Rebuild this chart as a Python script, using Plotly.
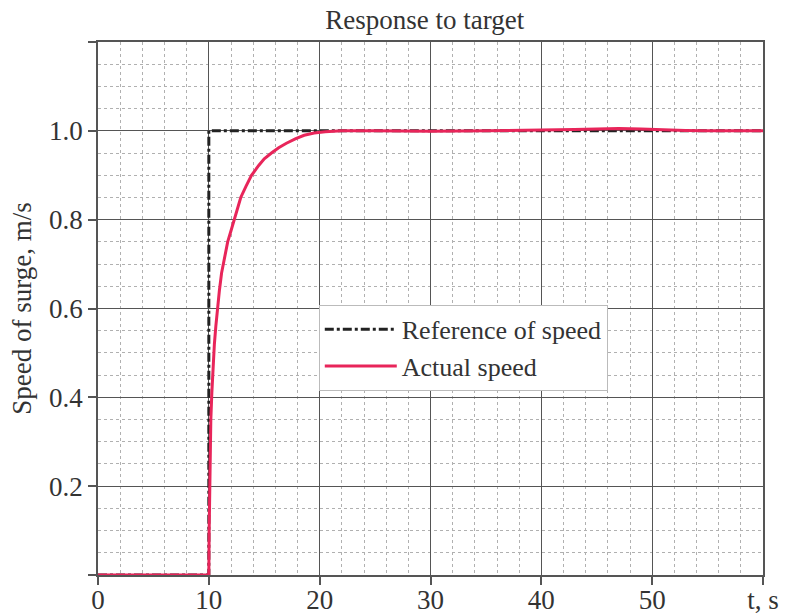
import plotly.graph_objects as go

# Reference of speed (step at t = 10 s)
t_ref = [0, 10, 10, 60]
v_ref = [0, 0, 1.0, 1.0]

# Actual speed
t_act = [0, 10, 10.03, 10.08, 10.13, 10.18, 10.27, 10.38, 10.5, 10.63, 10.78, 10.95,
         11.15, 11.4, 11.7, 12.0, 12.28, 12.58, 12.88, 13.35, 13.85, 14.5, 15.0, 15.65,
         16.3, 17.0, 17.8, 18.6, 19.5, 20.5, 22, 25, 30, 35, 40, 43, 45, 47, 49, 51,
         53, 55, 60]
v_act = [0, 0, 0.10, 0.22, 0.30, 0.35, 0.41, 0.47, 0.52, 0.56, 0.60, 0.64,
         0.68, 0.715, 0.75, 0.775, 0.80, 0.825, 0.85, 0.875, 0.90, 0.922, 0.937, 0.95,
         0.962, 0.972, 0.982, 0.99, 0.995, 0.998, 1.0, 1.0, 0.999, 1.0, 1.001, 1.003,
         1.004, 1.005, 1.004, 1.002, 1.001, 1.0, 1.0]

x_tickvals = [0, 10, 20, 30, 40, 50, 60]
x_ticktext = ["0", "10", "20", "30", "40", "50", "t, s"]
y_tickvals = [0, 0.2, 0.4, 0.6, 0.8, 1.0, 1.2]
y_ticktext = ["", "0.2", "0.4", "0.6", "0.8", "1.0", ""]

FONT = "Liberation Serif"
TXT = "#333333"

fig = go.Figure()
fig.add_trace(go.Scatter(x=t_ref, y=v_ref, mode="lines", name="Reference of speed",
                         line=dict(color="#222222", width=3, dash="dashdot")))
fig.add_trace(go.Scatter(x=t_act, y=v_act, mode="lines", name="Actual speed",
                         line=dict(color="#e8255a", width=3)))

fig.update_layout(
    width=785, height=616,
    margin=dict(l=98, r=22, t=42, b=41),
    paper_bgcolor="white", plot_bgcolor="white",
    font=dict(family=FONT, size=26, color=TXT),
    title=dict(text="Response to target", x=0.541, xanchor="center", y=0.968, yanchor="middle",
               font=dict(family=FONT, size=27, color=TXT)),
    legend=dict(x=0.332, y=0.507, xanchor="left", yanchor="top",
                bgcolor="white", bordercolor="#bbbbbb", borderwidth=1,
                font=dict(family=FONT, size=26, color=TXT),
                tracegroupgap=0, itemwidth=72),
    showlegend=True,
)

fig.update_xaxes(
    range=[0, 60], tickvals=x_tickvals, ticktext=x_ticktext, automargin=False,
    ticks="outside", ticklen=8, tickcolor="#555555", tickwidth=1.5,
    ticklabelstandoff=-8,
    showline=True, linecolor="#555555", linewidth=1.5, mirror=True,
    showgrid=True, gridcolor="#555555", gridwidth=1,
    minor=dict(dtick=2, showgrid=True, gridcolor="#b0b0b0", griddash="dot", gridwidth=1),
    zeroline=False, tickfont=dict(family=FONT, size=27, color=TXT),
)
fig.update_yaxes(
    range=[0, 1.2], tickvals=y_tickvals, ticktext=y_ticktext, automargin=False,
    ticks="outside", ticklen=8, tickcolor="#555555", tickwidth=1.5,
    showline=True, linecolor="#555555", linewidth=1.5, mirror=True,
    showgrid=True, gridcolor="#555555", gridwidth=1,
    minor=dict(dtick=0.05, tick0=0, showgrid=True, gridcolor="#b0b0b0", griddash="dot", gridwidth=1),
    zeroline=False, tickfont=dict(family=FONT, size=27, color=TXT),
    title=dict(text="Speed of surge, m/s", font=dict(family=FONT, size=27, color=TXT), standoff=10),
)

fig.write_html("out.html")
